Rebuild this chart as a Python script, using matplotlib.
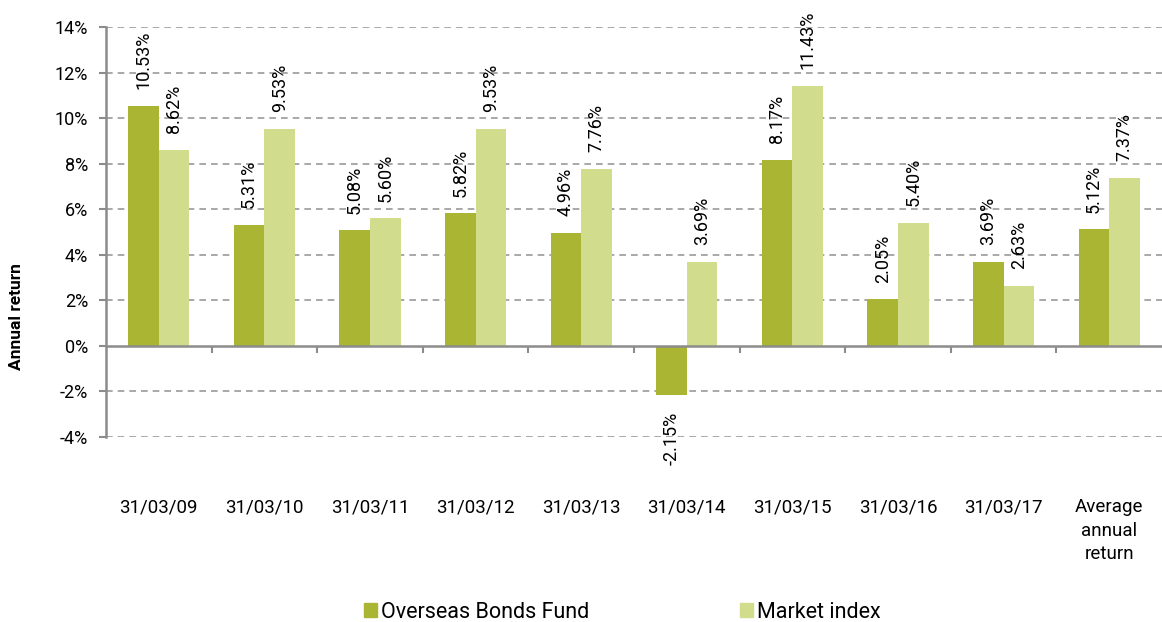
import numpy as np
import matplotlib
matplotlib.use('Agg')
import matplotlib.pyplot as plt
from matplotlib.patches import Patch

# Data
categories = ['31/03/09', '31/03/10', '31/03/11', '31/03/12', '31/03/13',
              '31/03/14', '31/03/15', '31/03/16', '31/03/17',
              'Average\nannual\nreturn']
fund_returns = [10.53, 5.31, 5.08, 5.82, 4.96, -2.15, 8.17, 2.05, 3.69, 5.12]
index_returns = [8.62, 9.53, 5.60, 9.53, 7.76, 3.69, 11.43, 5.40, 2.63, 7.37]
series_names = ['Overseas Bonds Fund', 'Market index']
yticks = [-4, -2, 0, 2, 4, 6, 8, 10, 12, 14]

dark_green = '#AAB533'
light_green = '#D1DC8C'
axis_grey = '#8C8C8C'

plt.rcParams['font.family'] = ['Roboto', 'DejaVu Sans']

fig = plt.figure(figsize=(11.62, 6.22), dpi=100)
ax = fig.add_axes([106 / 1162, 1 - 437 / 622, 1 - 106 / 1162, (437 - 27) / 622])

x = np.arange(len(categories))
width = 0.29

# gridlines first so bars sit on top
for t in yticks:
    if t != 0:
        ax.axhline(t, color='#9A9A9A', linestyle=(0, (4, 3)), linewidth=1.2, zorder=0)

bars1 = ax.bar(x - width / 2, fund_returns, width, color=dark_green, zorder=2)
bars2 = ax.bar(x + width / 2, index_returns, width, color=light_green, zorder=2)

# value labels, rotated like the original
for bars, vals in [(bars1, fund_returns), (bars2, index_returns)]:
    for b, v in zip(bars, vals):
        cx = b.get_x() + b.get_width() / 2
        if v >= 0:
            ax.annotate('%.2f%%' % v, (cx, v), xytext=(0, 12), textcoords='offset points',
                        rotation=90, ha='center', va='bottom', fontsize=13,
                        annotation_clip=False)
        else:
            ax.annotate('%.2f%%' % v, (cx, v), xytext=(0, -12), textcoords='offset points',
                        rotation=90, ha='center', va='top', fontsize=13,
                        annotation_clip=False)

# zero line with small category divider ticks
ax.axhline(0, color=axis_grey, linewidth=1.8, zorder=3)
tick_len = 0.3
ax.vlines(x[:-1] + 0.5, 0, -tick_len, color=axis_grey, linewidth=1.5, zorder=3)

ax.set_xlim(-0.5, len(categories) - 0.5)
ax.set_ylim(-4, 14)
ax.set_yticks(yticks)
ax.set_yticklabels(['%d%%' % t for t in yticks], fontsize=13)
ax.set_xticks(x)
ax.set_xticklabels(categories, fontsize=13.5, linespacing=1.4)
ax.tick_params(axis='x', length=0, pad=44)
ax.tick_params(axis='y', length=5, width=1.5, color=axis_grey, pad=8)

for s in ['top', 'right', 'bottom']:
    ax.spines[s].set_visible(False)
ax.spines['left'].set_color(axis_grey)
ax.spines['left'].set_linewidth(1.8)

fig.text(17 / 1162, 1 - 317 / 622, 'Annual return', rotation=90, fontsize=12.5,
         fontweight='bold', ha='center', va='center')

handles = [Patch(color=dark_green), Patch(color=light_green)]
fig.legend(handles, series_names, loc='center', bbox_to_anchor=(0.5357, 1 - 612 / 622),
           ncol=2, frameon=False, fontsize=15.5, handlelength=0.6, handleheight=0.6,
           handletextpad=0.2, columnspacing=7.0)

fig.savefig('out.png', dpi=100)
